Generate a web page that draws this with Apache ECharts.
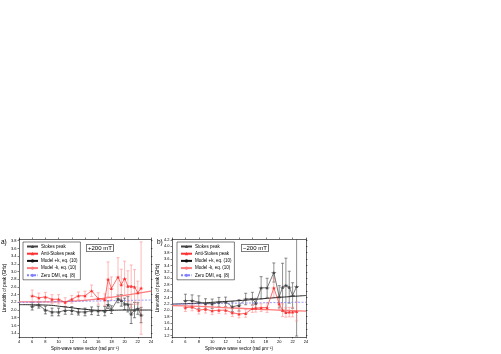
<!DOCTYPE html>
<html>
<head>
<meta charset="utf-8">
<script src="https://cdn.jsdelivr.net/npm/echarts@6/dist/echarts.min.js"></script>
<style>
html,body{margin:0;padding:0;background:#fff}
#chart{width:501px;height:354px}
</style>
</head>
<body>
<div id="chart"></div>
<script>
// x ticks (rad/um)
var xTicks = [4, 6, 8, 10, 12, 14, 16, 18, 20, 22, 24];
var yTicksA = [1.4, 1.6, 1.8, 2.0, 2.2, 2.4, 2.6, 2.8, 3.0, 3.2, 3.4, 3.6, 3.8];
var yTicksB = [1.2, 1.4, 1.6, 1.8, 2.0, 2.2, 2.4, 2.6, 2.8, 3.0, 3.2, 3.4, 3.6, 3.8, 4.0, 4.2];

// panel a) +200 mT
var aK = [6, 7, 8, 9, 10, 11, 12, 13, 14, 15, 16, 17, 17.5, 18, 19, 19.5, 20, 20.5, 21, 21.5, 22, 22.5];
var aStokes = [2.10, 2.13, 2.00, 1.95, 1.95, 1.99, 1.99, 1.95, 1.95, 1.98, 1.98, 1.97, 2.14, 2.01, 2.29, 2.25, 2.16, 2.15, 1.90, 2.00, 2.04, 1.87];
var aStokesErr = [0.10, 0.08, 0.10, 0.10, 0.10, 0.10, 0.10, 0.08, 0.10, 0.10, 0.12, 0.12, 0.10, 0.10, 0.10, 0.15, 0.15, 0.20, 0.25, 0.20, 0.15, 0.20];
var aAnti = [2.37, 2.32, 2.34, 2.28, 2.28, 2.20, 2.28, 2.37, 2.37, 2.50, 2.30, 2.27, 2.80, 2.56, 2.86, 2.66, 2.82, 2.62, 2.62, 2.60, 2.45, 2.57];
var aAntiErr = [0.15, 0.12, 0.12, 0.12, 0.12, 0.12, 0.10, 0.10, 0.12, 0.15, 0.15, 0.15, 0.45, 0.30, 0.50, 0.40, 0.45, 0.40, 0.55, 0.45, 0.30, 1.20];

// panel b) -200 mT
var bK = [6, 7, 8, 9, 10, 11, 12, 13, 14, 15, 16, 16.5, 17.3, 18.2, 19.2, 20, 20.5, 21, 21.5, 22, 22.6];
var bStokes = [2.30, 2.30, 2.25, 2.21, 2.20, 2.25, 2.26, 2.11, 2.15, 2.35, 2.36, 2.22, 2.70, 2.70, 3.18, 2.42, 2.72, 2.78, 2.72, 2.46, 2.74];
var bStokesErr = [0.20, 0.18, 0.20, 0.15, 0.15, 0.15, 0.15, 0.15, 0.18, 0.18, 0.20, 0.15, 0.35, 0.30, 0.30, 0.35, 0.75, 0.85, 0.50, 0.40, 1.55];
var bAnti = [2.08, 2.10, 2.00, 2.03, 1.98, 2.00, 2.00, 1.92, 1.88, 1.90, 2.05, 2.06, 2.08, 2.08, 2.70, 2.20, 2.00, 1.93, 1.94, 1.94, 1.96];
var bAntiErr = [0.12, 0.12, 0.12, 0.12, 0.12, 0.10, 0.12, 0.12, 0.12, 0.12, 0.12, 0.12, 0.12, 0.15, 0.30, 0.20, 0.20, 0.15, 0.15, 0.15, 0.30];

// model curves
var modelK = [4, 8, 11, 14, 17, 20, 24];
var aPlusK = [2.14, 2.13, 2.08, 2.02, 1.99, 2.00, 2.00];
var aMinusK = [2.21, 2.21, 2.22, 2.25, 2.31, 2.38, 2.49];
var aZero = [2.20, 2.21, 2.22, 2.23, 2.24, 2.25, 2.26];
var bPlusK = [2.19, 2.22, 2.26, 2.30, 2.35, 2.40, 2.46];
var bMinusK = [2.14, 2.12, 2.09, 2.06, 2.03, 2.00, 1.97];
var bZero = [2.19, 2.20, 2.21, 2.22, 2.23, 2.24, 2.25];

var FONT = 'Liberation Sans';
var names = ['Stokes peak', 'Anti-Stokes peak', 'Model +k, eq. (10)', 'Model -k, eq. (10)', 'Zero DMI, eq. (8)'];

function pairs(xs, ys) {
    return xs.map(function (x, i) { return [x, ys[i]]; });
}

function errSeries(xs, ys, errs, color, idx) {
    return {
        type: 'custom',
        xAxisIndex: idx,
        yAxisIndex: idx,
        silent: true,
        clip: true,
        z: 1,
        data: xs.map(function (x, i) { return [x, ys[i], errs[i]]; }),
        renderItem: function (params, api) {
            var x = api.value(0), y = api.value(1), e = api.value(2);
            var t = api.coord([x, y + e]);
            var b = api.coord([x, y - e]);
            var l = api.coord([x - 0.35, y]);
            var r = api.coord([x + 0.35, y]);
            var st = { stroke: color, lineWidth: 0.6 };
            return {
                type: 'group',
                children: [
                    { type: 'line', shape: { x1: t[0], y1: t[1], x2: b[0], y2: b[1] }, style: st },
                    { type: 'line', shape: { x1: t[0] - 1.5, y1: t[1], x2: t[0] + 1.5, y2: t[1] }, style: st },
                    { type: 'line', shape: { x1: b[0] - 1.5, y1: b[1], x2: b[0] + 1.5, y2: b[1] }, style: st },
                    { type: 'line', shape: { x1: l[0], y1: l[1], x2: r[0], y2: r[1] }, style: st }
                ]
            };
        }
    };
}

function dataSeries(name, xs, ys, color, idx) {
    return {
        name: name, type: 'line', xAxisIndex: idx, yAxisIndex: idx,
        data: pairs(xs, ys), symbol: 'triangle', symbolSize: 3, z: 3,
        lineStyle: { color: color, width: 0.7 },
        itemStyle: { color: color }
    };
}

function modelSeries(name, ys, color, width, type, idx) {
    return {
        name: name, type: 'line', xAxisIndex: idx, yAxisIndex: idx,
        data: pairs(modelK, ys), symbol: 'none', smooth: true, z: 2,
        lineStyle: { color: color, width: width, type: type },
        itemStyle: { color: color }
    };
}

function xAx(idx, top) {
    return {
        type: 'value', gridIndex: idx, min: 4, max: 24, interval: 2,
        position: top ? 'top' : 'bottom',
        name: top ? '' : 'Spin-wave wave vector (rad µm⁻¹)',
        nameLocation: 'middle', nameGap: 9,
        nameTextStyle: { fontFamily: FONT, fontSize: 4.5, color: '#000' },
        axisLine: { lineStyle: { color: '#000', width: 0.6 } },
        axisTick: { show: true, length: 1.5, lineStyle: { color: '#000', width: 0.5 } },
        axisLabel: { show: !top, fontFamily: FONT, fontSize: 4, color: '#000', margin: 2.5 },
        splitLine: { show: false }
    };
}

function yAx(idx, min, max, ticks, right) {
    return {
        type: 'value', gridIndex: idx, min: min, max: max,
        position: right ? 'right' : 'left',
        name: right ? '' : 'Linewidth of peak (GHz)',
        nameLocation: 'middle', nameGap: 9,
        nameTextStyle: { fontFamily: FONT, fontSize: 4.5, color: '#000' },
        axisLine: { show: true, lineStyle: { color: '#000', width: 0.6 } },
        axisTick: { show: true, length: 1.5, customValues: ticks, lineStyle: { color: '#000', width: 0.5 } },
        axisLabel: {
            show: !right, customValues: ticks, fontFamily: FONT, fontSize: 4, color: '#000', margin: 2.5,
            formatter: function (v) { return v.toFixed(1); }
        },
        splitLine: { show: false }
    };
}

function legendAt(left) {
    return {
        orient: 'vertical', left: left, top: 242,
        data: names,
        itemWidth: 11, itemHeight: 4, itemGap: 2.2,
        padding: [2, 3, 2, 3],
        borderColor: '#000', borderWidth: 0.5,
        textStyle: { fontFamily: FONT, fontSize: 4.5, color: '#000', padding: [0, 0, 0, -2] },
        selectedMode: false
    };
}

function tag(text, x, y) {
    return {
        type: 'text', left: x, top: y,
        style: {
            text: text, fontFamily: FONT, fontSize: 6, fill: '#000',
            borderColor: '#000', borderWidth: 0.5, padding: [1, 1.5, 0, 1.5], backgroundColor: '#fff'
        }
    };
}

var chart = echarts.init(document.getElementById('chart'), null, { renderer: 'canvas' });

var option = {
    backgroundColor: '#fff',
    animation: false,
    grid: [
        { left: 19, top: 239, width: 132, height: 98 },
        { left: 172, top: 239, width: 134, height: 98 },
        { left: 19, top: 239, width: 132, height: 98 },
        { left: 172, top: 239, width: 134, height: 98 }
    ],
    xAxis: [xAx(0, false), xAx(1, false), xAx(2, true), xAx(3, true)],
    yAxis: [
        yAx(0, 1.3, 3.845, yTicksA, false),
        yAx(1, 1.16, 4.23, yTicksB, false),
        yAx(2, 1.3, 3.845, yTicksA, true),
        yAx(3, 1.16, 4.23, yTicksB, true)
    ],
    legend: [legendAt(23), legendAt(177)],
    graphic: [
        { type: 'text', left: 1, top: 239, style: { text: 'a)', fontFamily: FONT, fontSize: 6.5, fill: '#000' } },
        { type: 'text', left: 157, top: 239, style: { text: 'b)', fontFamily: FONT, fontSize: 6.5, fill: '#000' } },
        tag('+200 mT', 86, 244),
        tag('−200 mT', 241, 244)
    ],
    series: [
        errSeries(aK, aStokes, aStokesErr, '#333', 0),
        errSeries(aK, aAnti, aAntiErr, '#ff8c8c', 0),
        modelSeries(names[2], aPlusK, '#111', 0.9, 'solid', 0),
        modelSeries(names[3], aMinusK, '#ff7a7a', 1.3, 'solid', 0),
        modelSeries(names[4], aZero, '#7f7fff', 0.8, [2, 1.5], 0),
        dataSeries(names[0], aK, aStokes, '#444', 0),
        dataSeries(names[1], aK, aAnti, '#ff3030', 0),

        errSeries(bK, bStokes, bStokesErr, '#444', 1),
        errSeries(bK, bAnti, bAntiErr, '#ff8c8c', 1),
        modelSeries(names[2], bPlusK, '#111', 0.9, 'solid', 1),
        modelSeries(names[3], bMinusK, '#ff7a7a', 1.3, 'solid', 1),
        modelSeries(names[4], bZero, '#7f7fff', 0.8, [2, 1.5], 1),
        dataSeries(names[0], bK, bStokes, '#444', 1),
        dataSeries(names[1], bK, bAnti, '#ff3030', 1)
    ]
};

chart.setOption(option);
</script>
</body>
</html>
